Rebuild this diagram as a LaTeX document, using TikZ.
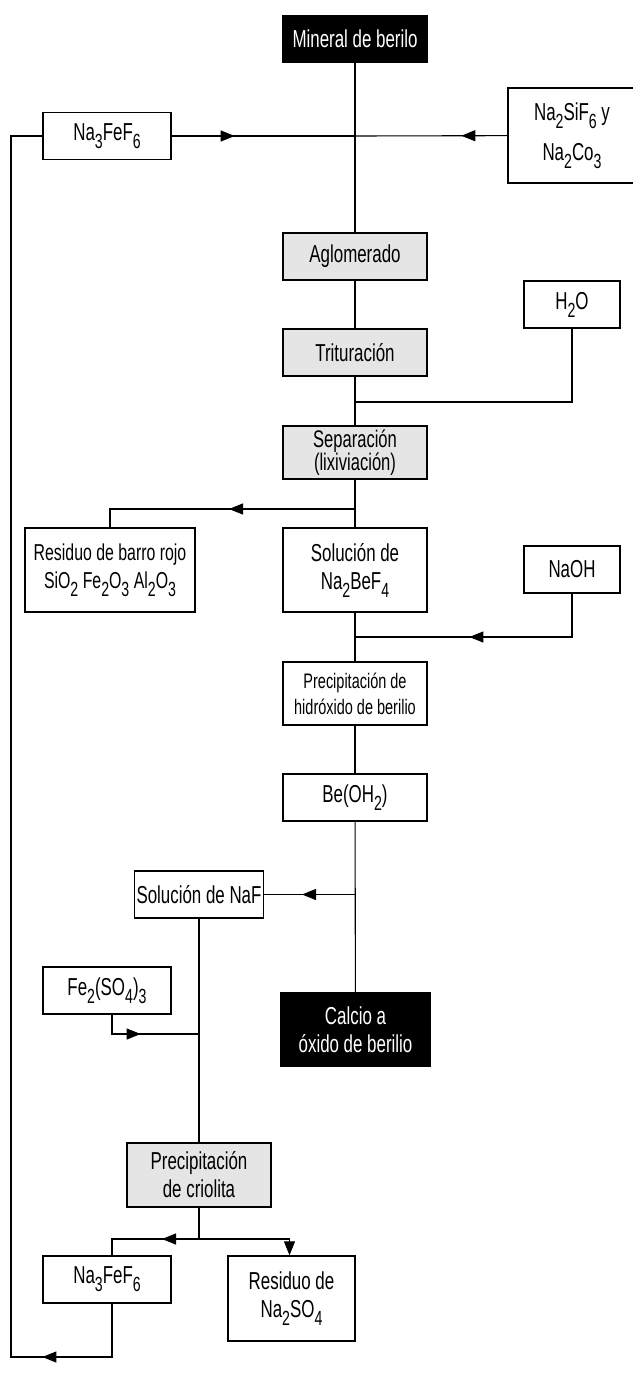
\documentclass[tikz,border=0pt]{standalone}
\usepackage{fontspec}
\setmainfont{Liberation Sans}[FakeStretch=0.69]
\usetikzlibrary{arrows.meta,decorations.markings,positioning}

\newcommand{\chsub}[1]{\raisebox{-8pt}{\fontsize{20.5}{20.5}\selectfont #1}}

\tikzset{
  box/.style={draw, line width=1.3pt, minimum width=144pt, minimum height=47pt, inner sep=2pt, align=center},
  stage/.style={box, fill=black!10},
  dark/.style={box, fill=black, text=white},
  conn/.style={line width=1.1pt},
  tipat/.style={postaction={decorate}, decoration={markings, mark=at position #1 with {\arrow{Triangle[length=14pt,width=11pt]}}}},
  tipend/.style={-{Triangle[length=14pt,width=11pt]}}
}

\begin{document}
\begin{tikzpicture}[x=1pt, y=-1pt, font=\fontsize{24.5}{28}\selectfont]
        \useasboundingbox (0,0) rectangle (632,1378);
        % main column
        \node[dark] (mineral) at (355,39) {Mineral de berilo};
        \node[stage] (aglo) at (355,256.5) {Aglomerado};
        \node[stage] (trit) at (355,352.5) {Trituración};
        \node[stage, minimum height=53pt, font=\fontsize{24}{23}\selectfont] (sep) at (355,452.5) {Separación\\(lixiviación)};
        \node[box, minimum height=84pt] (sol) at (355,570) {Solución de\\Na\chsub{2}BeF\chsub{4}};
        \node[box, minimum height=63pt, font=\fontsize{21}{26}\selectfont] (prec) at (355,693.5) {Precipitación de\\hidróxido de berilio};
        \node[box] (beoh) at (355,797.5) {Be(OH\chsub{2})};
        \node[dark, minimum width=149pt, minimum height=73pt] (calc) at (355.5,1029.5) {Calcio a\\óxido de berilio};
        % side inputs and outputs
        \node[box, minimum width=128pt] (nafe1) at (107,136) {Na\chsub{3}FeF\chsub{6}};
        \node[box, minimum width=128pt, minimum height=95pt] (nasi) at (572,135.5) {Na\chsub{2}SiF\chsub{6} y\\[12pt]Na\chsub{2}Co\chsub{3}};
        \node[box, minimum width=96pt] (agua) at (572,304.5) {H\chsub{2}O};
        \node[box, minimum width=170pt, minimum height=84pt, font=\fontsize{23}{28}\selectfont] (resid) at (110,570) {Residuo de barro rojo\\SiO\chsub{2} Fe\chsub{2}O\chsub{3} Al\chsub{2}O\chsub{3}};
        \node[box, minimum width=96pt] (naoh) at (572,569.5) {NaOH};
        \node[box, minimum width=128pt] (naf) at (199,894.5) {Solución de NaF};
        \node[box, minimum width=128pt] (fesul) at (107,990.5) {Fe\chsub{2}(SO\chsub{4})\chsub{3}};
        \node[stage, minimum height=64pt] (crio) at (199,1175) {Precipitación\\de criolita};
        \node[box, minimum width=128pt] (nafe2) at (107,1279.5) {Na\chsub{3}FeF\chsub{6}};
        \node[box, minimum width=127pt, minimum height=85pt] (resna) at (291.5,1298.5) {Residuo de\\Na\chsub{2}SO\chsub{4}};
        % junctions
        \coordinate (j1) at (mineral.south |- nafe1.east);
        \coordinate (j2) at (355,402);
        \coordinate (j3) at (355,509);
        \coordinate (j4) at (355,637);
        \coordinate (j5) at (beoh.south |- naf.east);
        \coordinate (j6) at (199,1034);
        \coordinate (j7) at (199,1239);
        \coordinate (loop) at (11,1357);
        % connectors
        \draw[conn] (mineral) -- (aglo);
        \draw[conn] (aglo) -- (trit);
        \draw[conn] (trit) -- (sep);
        \draw[conn] (sep) -- (sol);
        \draw[conn] (sol) -- (prec);
        \draw[conn] (prec) -- (beoh);
        \draw[conn] (beoh) -- (calc);
        \draw[conn] (naf) -- (crio);
        \draw[conn] (crio) -- (j7);
        \draw[conn, tipat=63pt] (nafe1) -- (j1);
        \draw[conn, tipat=46pt] (nasi) -- (j1);
        \draw[conn] (agua) |- (j2);
        \draw[conn, tipat=126pt] (j3) -| (resid);
        \draw[conn, tipat=146pt] (naoh) |- (j4);
        \draw[conn, tipat=53pt] (j5) -- (naf);
        \draw[conn, tipat=48pt] ([xshift=5pt]fesul.south) |- (j6);
        \draw[conn, tipat=37pt] (j7) -| ([xshift=5pt]nafe2.north);
        \draw[conn, tipend] (j7) -| ([xshift=-2pt]resna.north);
        \draw[conn, tipat=123pt] ([xshift=5pt]nafe2.south) |- (loop) |- (nafe1);
      \end{tikzpicture}
\end{document}
